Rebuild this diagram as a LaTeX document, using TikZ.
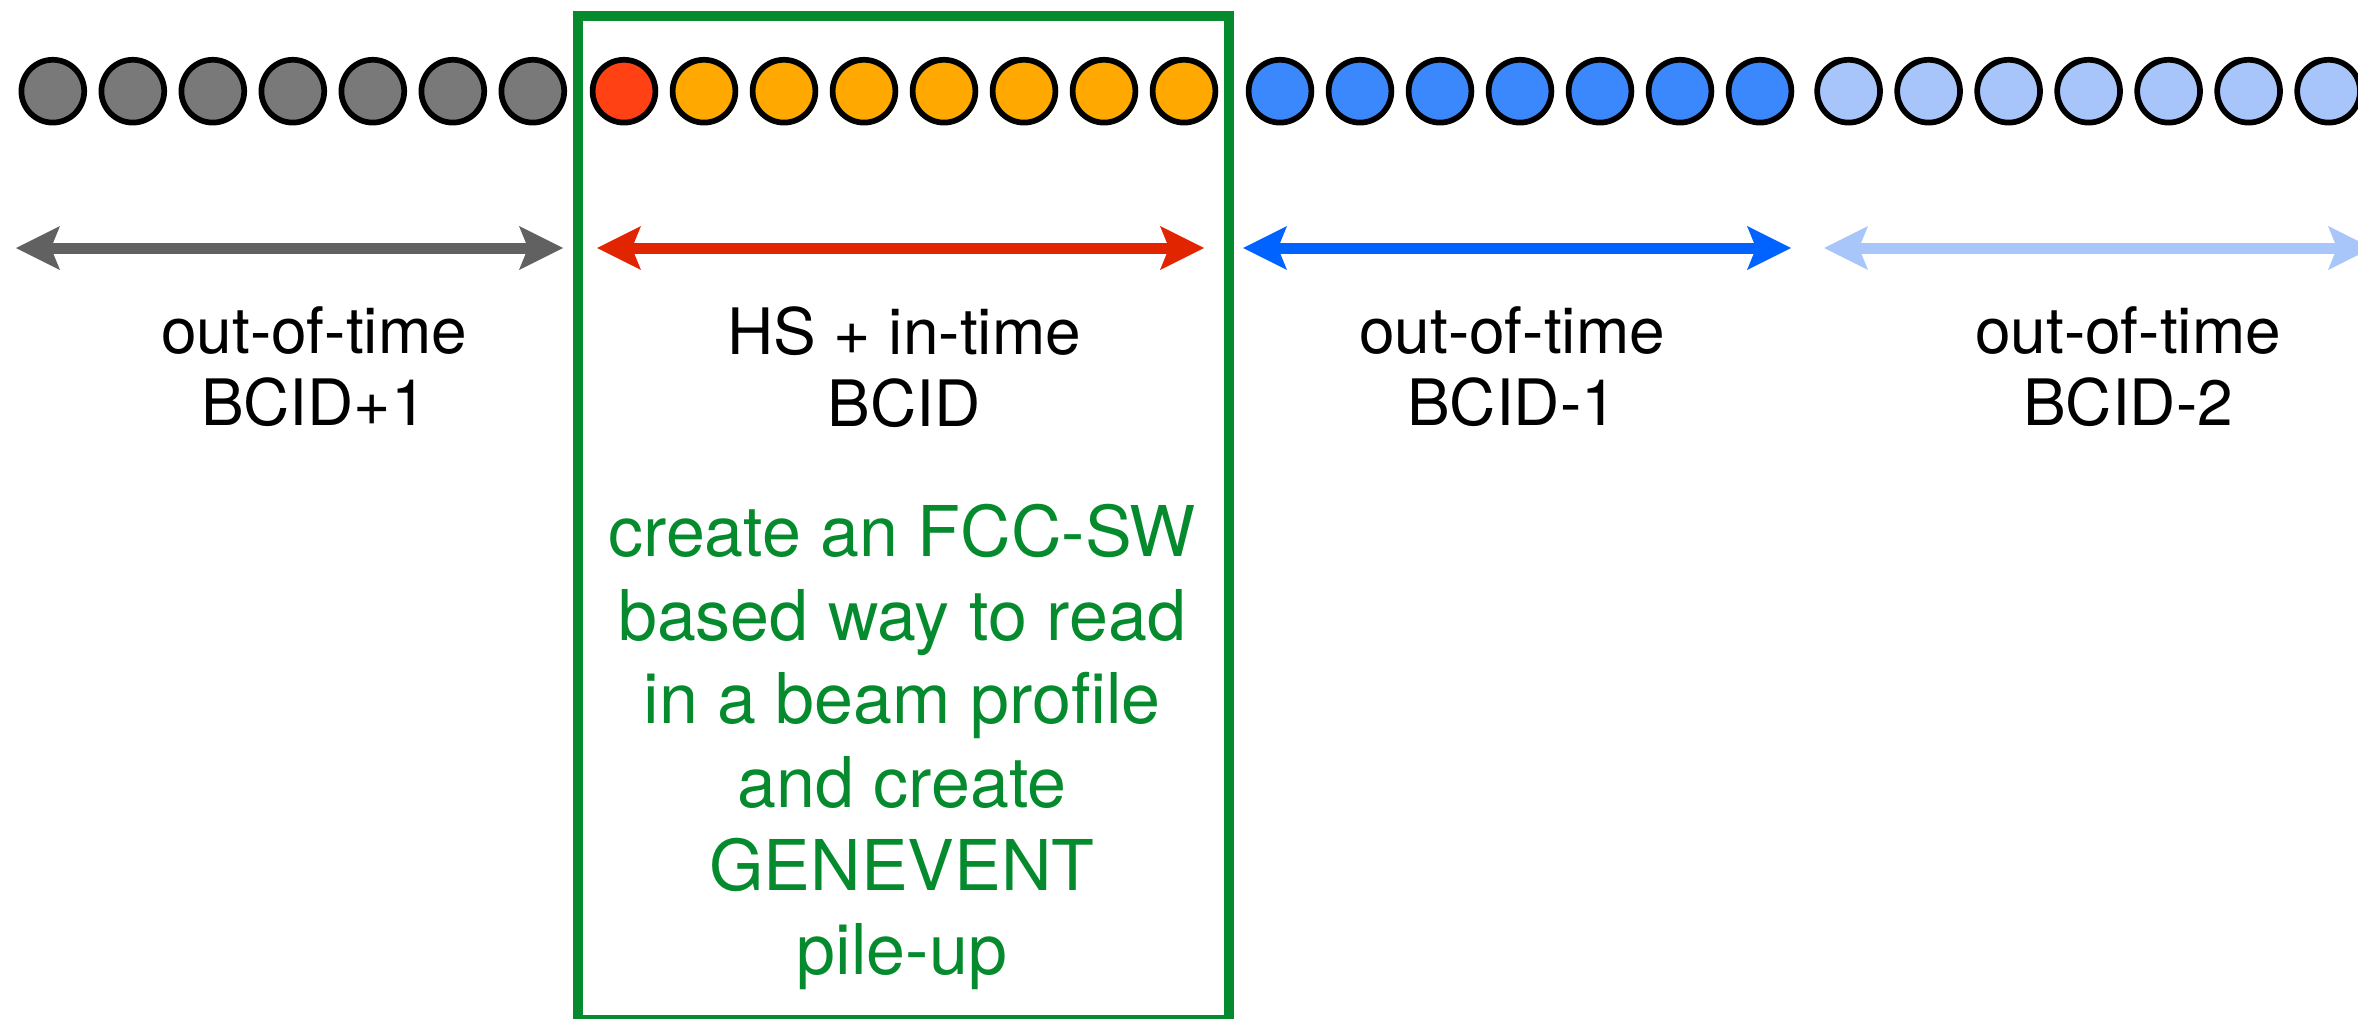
\documentclass[tikz,border=0pt]{standalone}
\usepackage{fontspec}
\setmainfont{TeX Gyre Heros}
\usetikzlibrary{arrows.meta}

\definecolor{bunchgray}{HTML}{797979}
\definecolor{bunchred}{HTML}{FF4114}
\definecolor{bunchorange}{HTML}{FFA900}
\definecolor{bunchblue}{HTML}{3B88FD}
\definecolor{bunchpale}{HTML}{A8C5FB}
\definecolor{spangray}{HTML}{616161}
\definecolor{spanred}{HTML}{E12500}
\definecolor{spanblue}{HTML}{0062FF}
\definecolor{spanpale}{HTML}{A8C6FA}
\definecolor{framegreen}{HTML}{058A2E}

\tikzset{
  bunch/.style={circle, draw=black, line width=5.7pt, minimum size=62.8pt, inner sep=0pt},
  tip/.style={Stealth[length=44pt, width=44pt, inset=9pt, line width=0pt]},
  span/.style={line width=11pt, {Stealth[length=44pt, width=44pt, inset=9pt, line width=0pt]}-{Stealth[length=44pt, width=44pt, inset=9pt, line width=0pt]}},
  lbl/.style={align=center, inner sep=0pt, font=\fontsize{64}{72}\selectfont},
  note/.style={align=center, inner sep=0pt, text=framegreen, font=\fontsize{70}{83.5}\selectfont},
  frame/.style={draw=framegreen, line width=10pt, inner sep=0pt}
}

\begin{document}
\begin{tikzpicture}[x=1pt, y=-1pt]
\useasboundingbox (0,0) rectangle (2358,1019);
\clip (0,0) rectangle (2358,1019);

% bunch train
\foreach \i in {1,...,7}
  \node[bunch, fill=bunchgray] (g\i) at ({52.8+80*(\i-1)}, 91.2) {};
\node[bunch, fill=bunchred] (hs) at (624, 91.2) {};
\foreach \i in {1,...,7}
  \node[bunch, fill=bunchorange] (o\i) at ({704+80*(\i-1)}, 91.2) {};
\foreach \i in {1,...,7}
  \node[bunch, fill=bunchblue] (b\i) at ({1280+80*(\i-1)}, 91.2) {};
\foreach \i in {1,...,7}
  \node[bunch, fill=bunchpale] (p\i) at ({1848.6+80*(\i-1)}, 91.2) {};

% frame around the in-time crossing
\node[frame, minimum width=651pt, minimum height=1004pt] (frame) at (903.5, 518) {};

% span ends
\coordinate (gL) at (16, 248);
\coordinate (gR) at (563, 248);
\coordinate (rL) at (597, 248);
\coordinate (rR) at (1204, 248);
\coordinate (bL) at (1243, 248);
\coordinate (bR) at (1791, 248);
\coordinate (pL) at (1824, 248);
\coordinate (pR) at (2372, 248);

\draw[span, spangray] (gL) -- (gR);
\draw[span, spanred] (rL) -- (rR);
\draw[span, spanblue] (bL) -- (bR);
\draw[span, spanpale] (pL) -- (pR);

% labels
\node[lbl] (lg) at (314, 367) {out-of-time\\BCID+1};
\node[lbl] (lr) at (904, 367) {HS + in-time\\BCID};
\node[lbl] (lb) at (1512, 367) {out-of-time\\BCID-1};
\node[lbl] (lp) at (2128, 367) {out-of-time\\BCID-2};

\node[note] (task) at (902, 747) {create an FCC-SW\\based way to read\\in a beam profile\\and create\\GENEVENT\\pile-up};
\end{tikzpicture}
\end{document}
